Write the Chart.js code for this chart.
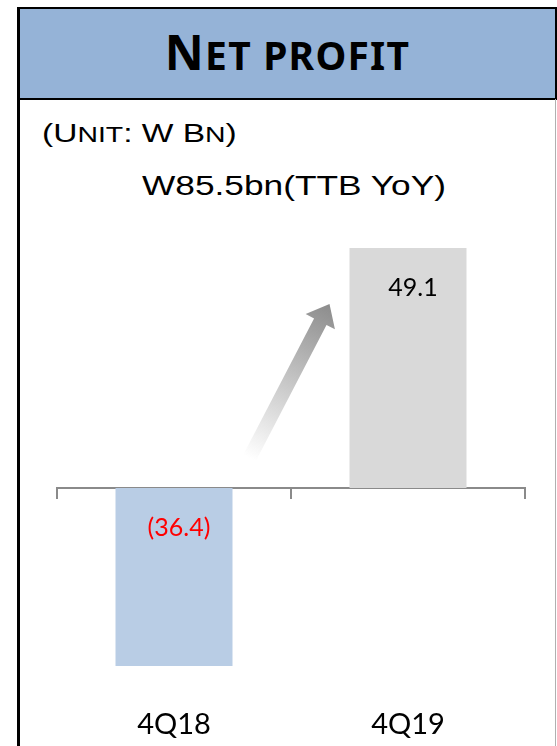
<!DOCTYPE html>
<html>
<head>
<meta charset="utf-8">
<script src="https://cdn.jsdelivr.net/npm/chart.js@4.4.1/dist/chart.umd.min.js"></script>
<style>
  html, body { margin: 0; padding: 0; background: #fff; }
  body { width: 557px; height: 746px; position: relative; overflow: hidden; }
  #header {
    position: absolute; left: 17px; top: 7px; width: 540px; height: 93px;
    box-sizing: border-box; background: #95b3d7;
    border: 2px solid #000; border-left-width: 3px;
  }
  #header span.t {
    position: absolute; left: 0; right: 0; top: 19px; text-align: center;
    font-family: "Noto Sans", sans-serif; font-weight: bold; letter-spacing: 1.2px;
    font-size: 39px; line-height: 48px; color: #000;
  }
  #header span.big { font-size: 48px; }
  #panelL { position: absolute; left: 17px; top: 99px; width: 3px; height: 647px; background: #000; }
  #panelR { position: absolute; left: 555px; top: 99px; width: 1px; height: 647px; background: #b0b0b0; }
  #unit {
    position: absolute; left: 42px; top: 117px; white-space: nowrap;
    font-family: "Liberation Sans", Arial, sans-serif; font-size: 26px; line-height: 32px;
    transform: scaleX(1.29); transform-origin: left center;
  }
  #unit .sm { font-size: 22px; }
  #sub {
    position: absolute; left: 0; width: 588px; top: 168px; text-align: center; white-space: nowrap;
    font-family: "Liberation Sans", Arial, sans-serif; font-size: 28px; line-height: 36px;
    transform: scaleX(1.26);
  }
  #chart { position: absolute; left: 0; top: 0; }
</style>
</head>
<body>
<div id="header"><span class="t"><span class="big">N</span>ET PROFIT</span></div>
<div id="panelL"></div>
<div id="panelR"></div>
<div id="unit">(U<span class="sm">NIT</span>: W B<span class="sm">N</span>)</div>
<div id="sub">W85.5bn(TTB YoY)</div>
<canvas id="chart" width="557" height="746"></canvas>
<script>
const categories = ['4Q18', '4Q19'];
const netProfit = [-36.4, 49.1];
const barColors = ['#b9cde5', '#d9d9d9'];
const labelColors = ['#ff0000', '#000000'];

// value labels, negative in parentheses
const valueLabels = {
    id: 'valueLabels',
    afterDatasetsDraw(chart) {
        const ctx = chart.ctx;
        const meta = chart.getDatasetMeta(0);
        ctx.save();
        ctx.font = '25px Lato, sans-serif';
        ctx.textAlign = 'center';
        ctx.textBaseline = 'middle';
        meta.data.forEach((bar, i) => {
            const v = netProfit[i];
            const txt = v < 0 ? '(' + Math.abs(v).toFixed(1) + ')' : v.toFixed(1);
            ctx.fillStyle = labelColors[i];
            ctx.fillText(txt, bar.x + 5, Math.min(bar.y, bar.base) + 40);
        });
        ctx.restore();
    }
};

// gradient arrow between the two bars
const growthArrow = {
    id: 'growthArrow',
    afterDatasetsDraw(chart) {
        const ctx = chart.ctx;
        const meta = chart.getDatasetMeta(0);
        const b0 = meta.data[0], b1 = meta.data[1];
        const zero = chart.scales.y.getPixelForValue(0);
        const tx = b0.x + b0.width / 2 + 17, ty = zero - 30;
        const hx = b1.x - b1.width / 2 - 20, hy = b1.y + 56;
        const len = Math.hypot(hx - tx, hy - ty);
        const ux = (hx - tx) / len, uy = (hy - ty) / len;
        const nx = -uy, ny = ux;
        const sw = 7, hw = 16.5, hl = 20;
        const bx = hx - ux * hl, by = hy - uy * hl;
        const g = ctx.createLinearGradient(tx, ty, hx, hy);
        g.addColorStop(0, 'rgba(140,140,140,0)');
        g.addColorStop(0.6, 'rgba(140,140,140,0.6)');
        g.addColorStop(1, 'rgba(140,140,140,1)');
        ctx.save();
        ctx.fillStyle = g;
        ctx.beginPath();
        ctx.moveTo(tx + nx * sw, ty + ny * sw);
        ctx.lineTo(bx + nx * sw, by + ny * sw);
        ctx.lineTo(bx + nx * hw, by + ny * hw);
        ctx.lineTo(hx, hy);
        ctx.lineTo(bx - nx * hw, by - ny * hw);
        ctx.lineTo(bx - nx * sw, by - ny * sw);
        ctx.lineTo(tx - nx * sw, ty - ny * sw);
        ctx.closePath();
        ctx.fill();
        ctx.restore();
    }
};

new Chart(document.getElementById('chart'), {
    type: 'bar',
    data: {
        labels: categories,
        datasets: [{
            data: netProfit,
            backgroundColor: barColors,
            borderWidth: 0,
            barPercentage: 0.5,
            categoryPercentage: 1.0
        }]
    },
    options: {
        responsive: false,
        animation: false,
        events: [],
        layout: { padding: { left: 57, right: 32, top: 194.6, bottom: 0 } },
        plugins: {
            legend: { display: false },
            tooltip: { enabled: false }
        },
        scales: {
            y: { display: false, min: -40, max: 60 },
            x: {
                grid: { display: false, drawTicks: false },
                border: { display: false },
                ticks: { color: '#000', padding: 24, font: { family: 'Lato, sans-serif', size: 29 } },
                afterFit(scale) { scale.height = 62.4; }
            },
            // zero line with the category tick marks
            x2: {
                type: 'category',
                position: { y: 0 },
                offset: true,
                ticks: { display: false },
                grid: { offset: true, drawOnChartArea: false, tickLength: 10, color: '#8a8a8a', lineWidth: 2 },
                border: { display: true, color: '#8a8a8a', width: 2 }
            }
        }
    },
    plugins: [growthArrow, valueLabels]
});
</script>
</body>
</html>
